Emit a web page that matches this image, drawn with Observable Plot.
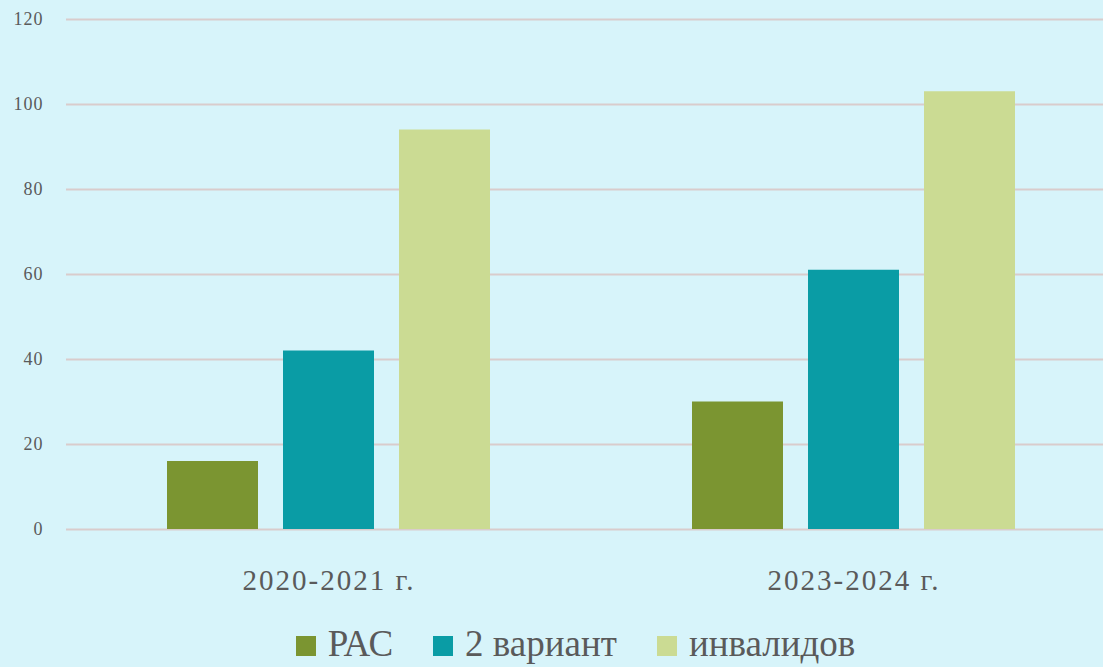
<!DOCTYPE html>
<html>
<head>
<meta charset="utf-8">
<script src="https://cdn.jsdelivr.net/npm/d3@7"></script>
<script src="https://cdn.jsdelivr.net/npm/@observablehq/plot@0.6"></script>
<style>
  html, body { margin: 0; padding: 0; background: #d7f4fa; overflow: hidden; width: 1103px; height: 667px; }
  #chart svg { display: block; }
  .legend { display: flex; justify-content: center; margin-top: 15px; margin-left: 48px; font-family: "Liberation Serif", serif; font-size: 37px; line-height: 1; color: #5a5a5a; }
  .legend .item { margin: 0 20px; white-space: nowrap; }
  .legend .sw { display: inline-block; width: 20px; height: 20px; margin-right: 12px; vertical-align: baseline; }
</style>
</head>
<body>
<div id="chart"></div>
<script>
const groups = ["2020-2021 г.", "2023-2024 г."];
const series = ["РАС", "2 вариант", "инвалидов"];
const rasValues = [16, 30];
const variant2Values = [42, 61];
const disabledValues = [94, 103];
const seriesColors = ["#7b9531", "#0a9ca5", "#cbdb93"];
const yTicks = [0, 20, 40, 60, 80, 100, 120];

const valuesBySeries = [rasValues, variant2Values, disabledValues];
const data = [];
groups.forEach((g, gi) => {
  series.forEach((s, si) => {
    data.push({group: g, series: s, value: valuesBySeries[si][gi]});
  });
});

const chart = Plot.plot({
  width: 1103,
  height: 610,
  marginLeft: 66,
  marginRight: -13,
  marginTop: 19,
  marginBottom: 81,
  style: {background: "transparent", fontFamily: "'Liberation Serif', serif", color: "#5a5a5a", overflow: "visible"},
  fx: {domain: groups, padding: 0, label: null, axis: null},
  x: {domain: series, paddingInner: 0.215, paddingOuter: 0.87, axis: null},
  y: {domain: [0, 120], label: null, axis: null},
  color: {domain: series, range: seriesColors},
  marks: [
    Plot.ruleY(yTicks, {stroke: "#d9cccc", strokeWidth: 2}),
    Plot.barY(data, {fx: "group", x: "series", y: "value", fill: "series"}),
    Plot.axisY({ticks: yTicks, tickSize: 0, tickPadding: 23, fontSize: 18, label: null, anchor: "left"}),
    Plot.axisFx({anchor: "bottom", tickSize: 0, tickPadding: 40, fontSize: 29, label: null})
  ]
});
d3.select(chart).selectAll('g[aria-label="fx-axis tick label"] text').style("letter-spacing", "2px");
d3.select(chart).selectAll('g[aria-label="y-axis tick label"] text').style("letter-spacing", "1px");
document.getElementById("chart").appendChild(chart);

const legend = document.createElement("div");
legend.className = "legend";
series.forEach((s, i) => {
  const item = document.createElement("span");
  item.className = "item";
  const sw = document.createElement("span");
  sw.className = "sw";
  sw.style.background = seriesColors[i];
  item.appendChild(sw);
  item.appendChild(document.createTextNode(s));
  legend.appendChild(item);
});
document.body.appendChild(legend);
</script>
</body>
</html>
